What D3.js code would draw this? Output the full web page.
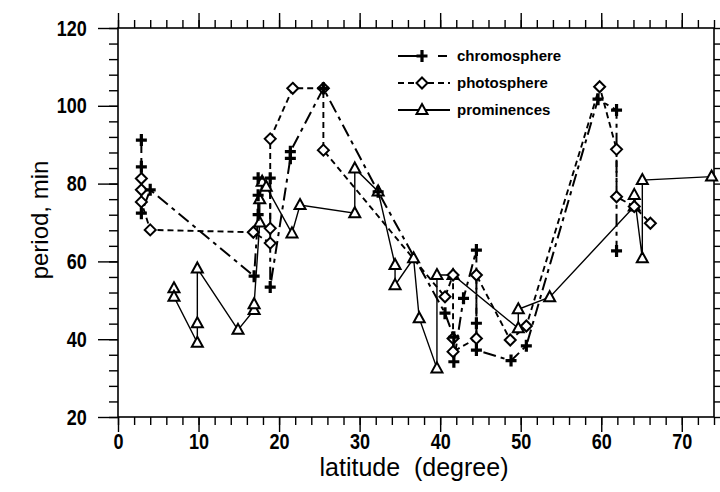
<!DOCTYPE html>
<html>
<head>
<meta charset="utf-8">
<script src="https://cdn.jsdelivr.net/npm/d3@7"></script>
<style>
  body { margin: 0; background: #fff; }
  svg { display: block; }
</style>
</head>
<body>
<script>
// [latitude, period], in the order the lines join them
const chromosphere = [
  [2.9, 91.2], [2.9, 84.3], [2.9, 72.4], [4.0, 78.4], [16.9, 56.2],
  [17.4, 72.0], [17.4, 77.0], [17.4, 81.4], [18.9, 81.4], [18.9, 53.4],
  [21.4, 86.5], [21.4, 88.2], [25.5, 104.5], [32.3, 77.9], [40.6, 46.7],
  [41.7, 40.5], [41.7, 34.2], [42.9, 50.5], [44.5, 62.9], [44.5, 44.1],
  [44.5, 37.2], [48.8, 34.5], [50.7, 38.3], [59.6, 101.7], [61.9, 98.9],
  [61.9, 62.7]
]
const photosphere = [
  [2.9, 81.3], [2.9, 78.4], [2.9, 75.3], [4.0, 68.1], [16.8, 67.5],
  [18.9, 64.7], [18.9, 68.5], [18.9, 91.5], [21.7, 104.5], [25.5, 104.5],
  [25.5, 88.6], [40.6, 50.9], [41.6, 56.5], [41.6, 40.2], [41.6, 36.8],
  [44.5, 40.2], [44.5, 56.5], [48.7, 39.8], [50.7, 43.4], [59.8, 104.9],
  [61.9, 88.8], [61.9, 76.6], [64.1, 74.1], [66.1, 69.8]
]
const prominences = [
  [6.95, 53.1], [6.95, 50.9], [9.85, 39.1], [9.85, 44.1], [9.85, 58.2],
  [14.9, 42.4], [16.9, 47.5], [16.9, 49.0], [17.6, 70.0], [17.6, 76.0],
  [17.9, 80.5], [18.4, 79.2], [21.6, 67.2], [22.6, 74.5], [29.4, 72.4],
  [29.4, 83.9], [32.3, 78.0], [34.4, 59.1], [34.4, 53.9], [36.7, 60.8],
  [37.4, 45.4], [39.6, 32.5], [39.6, 56.5], [41.6, 56.5], [49.7, 42.8],
  [49.7, 47.7], [53.6, 50.8], [64.1, 74.1], [64.1, 77.1], [65.1, 60.8],
  [65.1, 80.9], [73.7, 81.8]
]
const xMajor = [0, 10, 20, 30, 40, 50, 60, 70]
const yMajor = [20, 40, 60, 80, 100, 120]
const seriesNames = ['chromosphere', 'photosphere', 'prominences']

const width = 720, height = 492
const x = d3.scaleLinear().domain([0, 74]).range([118, 714])
const y = d3.scaleLinear().domain([20, 120]).range([417, 28])

const svg = d3.select('body').append('svg')
  .attr('width', width)
  .attr('height', height)

const font = 'Liberation Sans, Arial, Helvetica, sans-serif'

/* axes: minor ticks, then major ticks with labels */
const xMinor = d3.range(0, 75, 2)
const yMinor = d3.range(20, 121, 4)

function styleAxis(g) {
  g.select('.domain').remove()
  g.selectAll('line').attr('stroke', '#000').attr('stroke-width', 1.4)
}

svg.append('g').attr('transform', 'translate(0,417)')
  .call(d3.axisBottom(x).tickValues(xMinor).tickSize(8).tickFormat(''))
  .call(styleAxis)
svg.append('g').attr('transform', 'translate(0,28)')
  .call(d3.axisTop(x).tickValues(xMinor).tickSize(8).tickFormat(''))
  .call(styleAxis)
svg.append('g').attr('transform', 'translate(118,0)')
  .call(d3.axisLeft(y).tickValues(yMinor).tickSize(9).tickFormat(''))
  .call(styleAxis)
svg.append('g').attr('transform', 'translate(714,0)')
  .call(d3.axisRight(y).tickValues(yMinor).tickSize(6).tickFormat(''))
  .call(styleAxis)

const xAxis = svg.append('g').attr('transform', 'translate(0,417)')
  .call(d3.axisBottom(x).tickValues(xMajor).tickSize(15).tickPadding(1))
  .call(styleAxis)
svg.append('g').attr('transform', 'translate(0,28)')
  .call(d3.axisTop(x).tickValues(xMajor).tickSize(15).tickFormat(''))
  .call(styleAxis)
const yAxis = svg.append('g').attr('transform', 'translate(118,0)')
  .call(d3.axisLeft(y).tickValues(yMajor).tickSize(20).tickPadding(10))
  .call(styleAxis)

svg.selectAll('.tick text')
  .attr('fill', '#000')
  .style('font-family', font)
  .style('font-size', '22px')
  .style('font-weight', 'bold')
xAxis.selectAll('text').attr('transform', 'scale(0.82,1)')
yAxis.selectAll('text').attr('transform', 'scale(0.82,1)').attr('x', -38)

/* frame */
svg.append('rect')
  .attr('x', x(0)).attr('y', y(120))
  .attr('width', x(74) - x(0)).attr('height', y(20) - y(120))
  .attr('fill', 'none').attr('stroke', '#000').attr('stroke-width', 1.6)

/* axis titles */
svg.append('text')
  .attr('x', 414).attr('y', 476)
  .attr('text-anchor', 'middle')
  .style('font-family', font).style('font-size', '25px')
  .attr('xml:space', 'preserve')
  .text('latitude  (degree)')

svg.append('text')
  .attr('transform', 'translate(48,220) rotate(-90)')
  .attr('text-anchor', 'middle')
  .style('font-family', font).style('font-size', '24px')
  .text('period, min')

/* series */
const styles = {
  chromosphere: {dash: '13,5,4,5', width: 2},
  photosphere: {dash: '6,4', width: 1.9},
  prominences: {dash: null, width: 1.4}
}
const plus = 'M-5.5,0H5.5M0,-6V6'
const diamond = 'M0,-5.5L5.5,0L0,5.5L-5.5,0Z'
const triangle = 'M0,-6L5.5,4H-5.5Z'

const line = d3.line().x(d => x(d[0])).y(d => y(d[1]))
const data = {chromosphere, photosphere, prominences}

seriesNames.forEach(name => {
  svg.append('path')
    .datum(data[name])
    .attr('d', line)
    .attr('fill', 'none')
    .attr('stroke', '#000')
    .attr('stroke-width', styles[name].width)
    .attr('stroke-dasharray', styles[name].dash)
})

function drawMarkers(pts, shape) {
  const g = svg.append('g')
  g.selectAll('path')
    .data(pts)
    .enter().append('path')
    .attr('transform', d => `translate(${x(d[0])},${y(d[1])})`)
    .attr('d', shape === 'plus' ? plus : shape === 'diamond' ? diamond : triangle)
    .attr('fill', shape === 'plus' ? 'none' : '#fff')
    .attr('stroke', '#000')
    .attr('stroke-width', shape === 'plus' ? 3.2 : 2)
}
drawMarkers(prominences, 'triangle')
drawMarkers(photosphere, 'diamond')
drawMarkers(chromosphere, 'plus')

/* legend */
const legend = svg.append('g').attr('transform', 'translate(398,0)')
const legendY = [56, 83, 110]
const shapes = ['plus', 'diamond', 'triangle']
seriesNames.forEach((name, i) => {
  const ly = legendY[i]
  legend.append('line')
    .attr('x1', 0).attr('x2', 52).attr('y1', ly).attr('y2', ly)
    .attr('stroke', '#000')
    .attr('stroke-width', 2)
    .attr('stroke-dasharray', i === 0 ? '26,14,9,20' : i === 1 ? '6,4' : null)
  legend.append('path')
    .attr('transform', `translate(24,${ly})`)
    .attr('d', shapes[i] === 'plus' ? plus : shapes[i] === 'diamond' ? diamond : triangle)
    .attr('fill', shapes[i] === 'plus' ? 'none' : '#fff')
    .attr('stroke', '#000')
    .attr('stroke-width', shapes[i] === 'plus' ? 3.2 : 2)
  legend.append('text')
    .attr('x', 59).attr('y', ly + 5)
    .style('font-family', font).style('font-size', '15px').style('font-weight', 'bold')
    .text(name)
})
</script>
</body>
</html>
